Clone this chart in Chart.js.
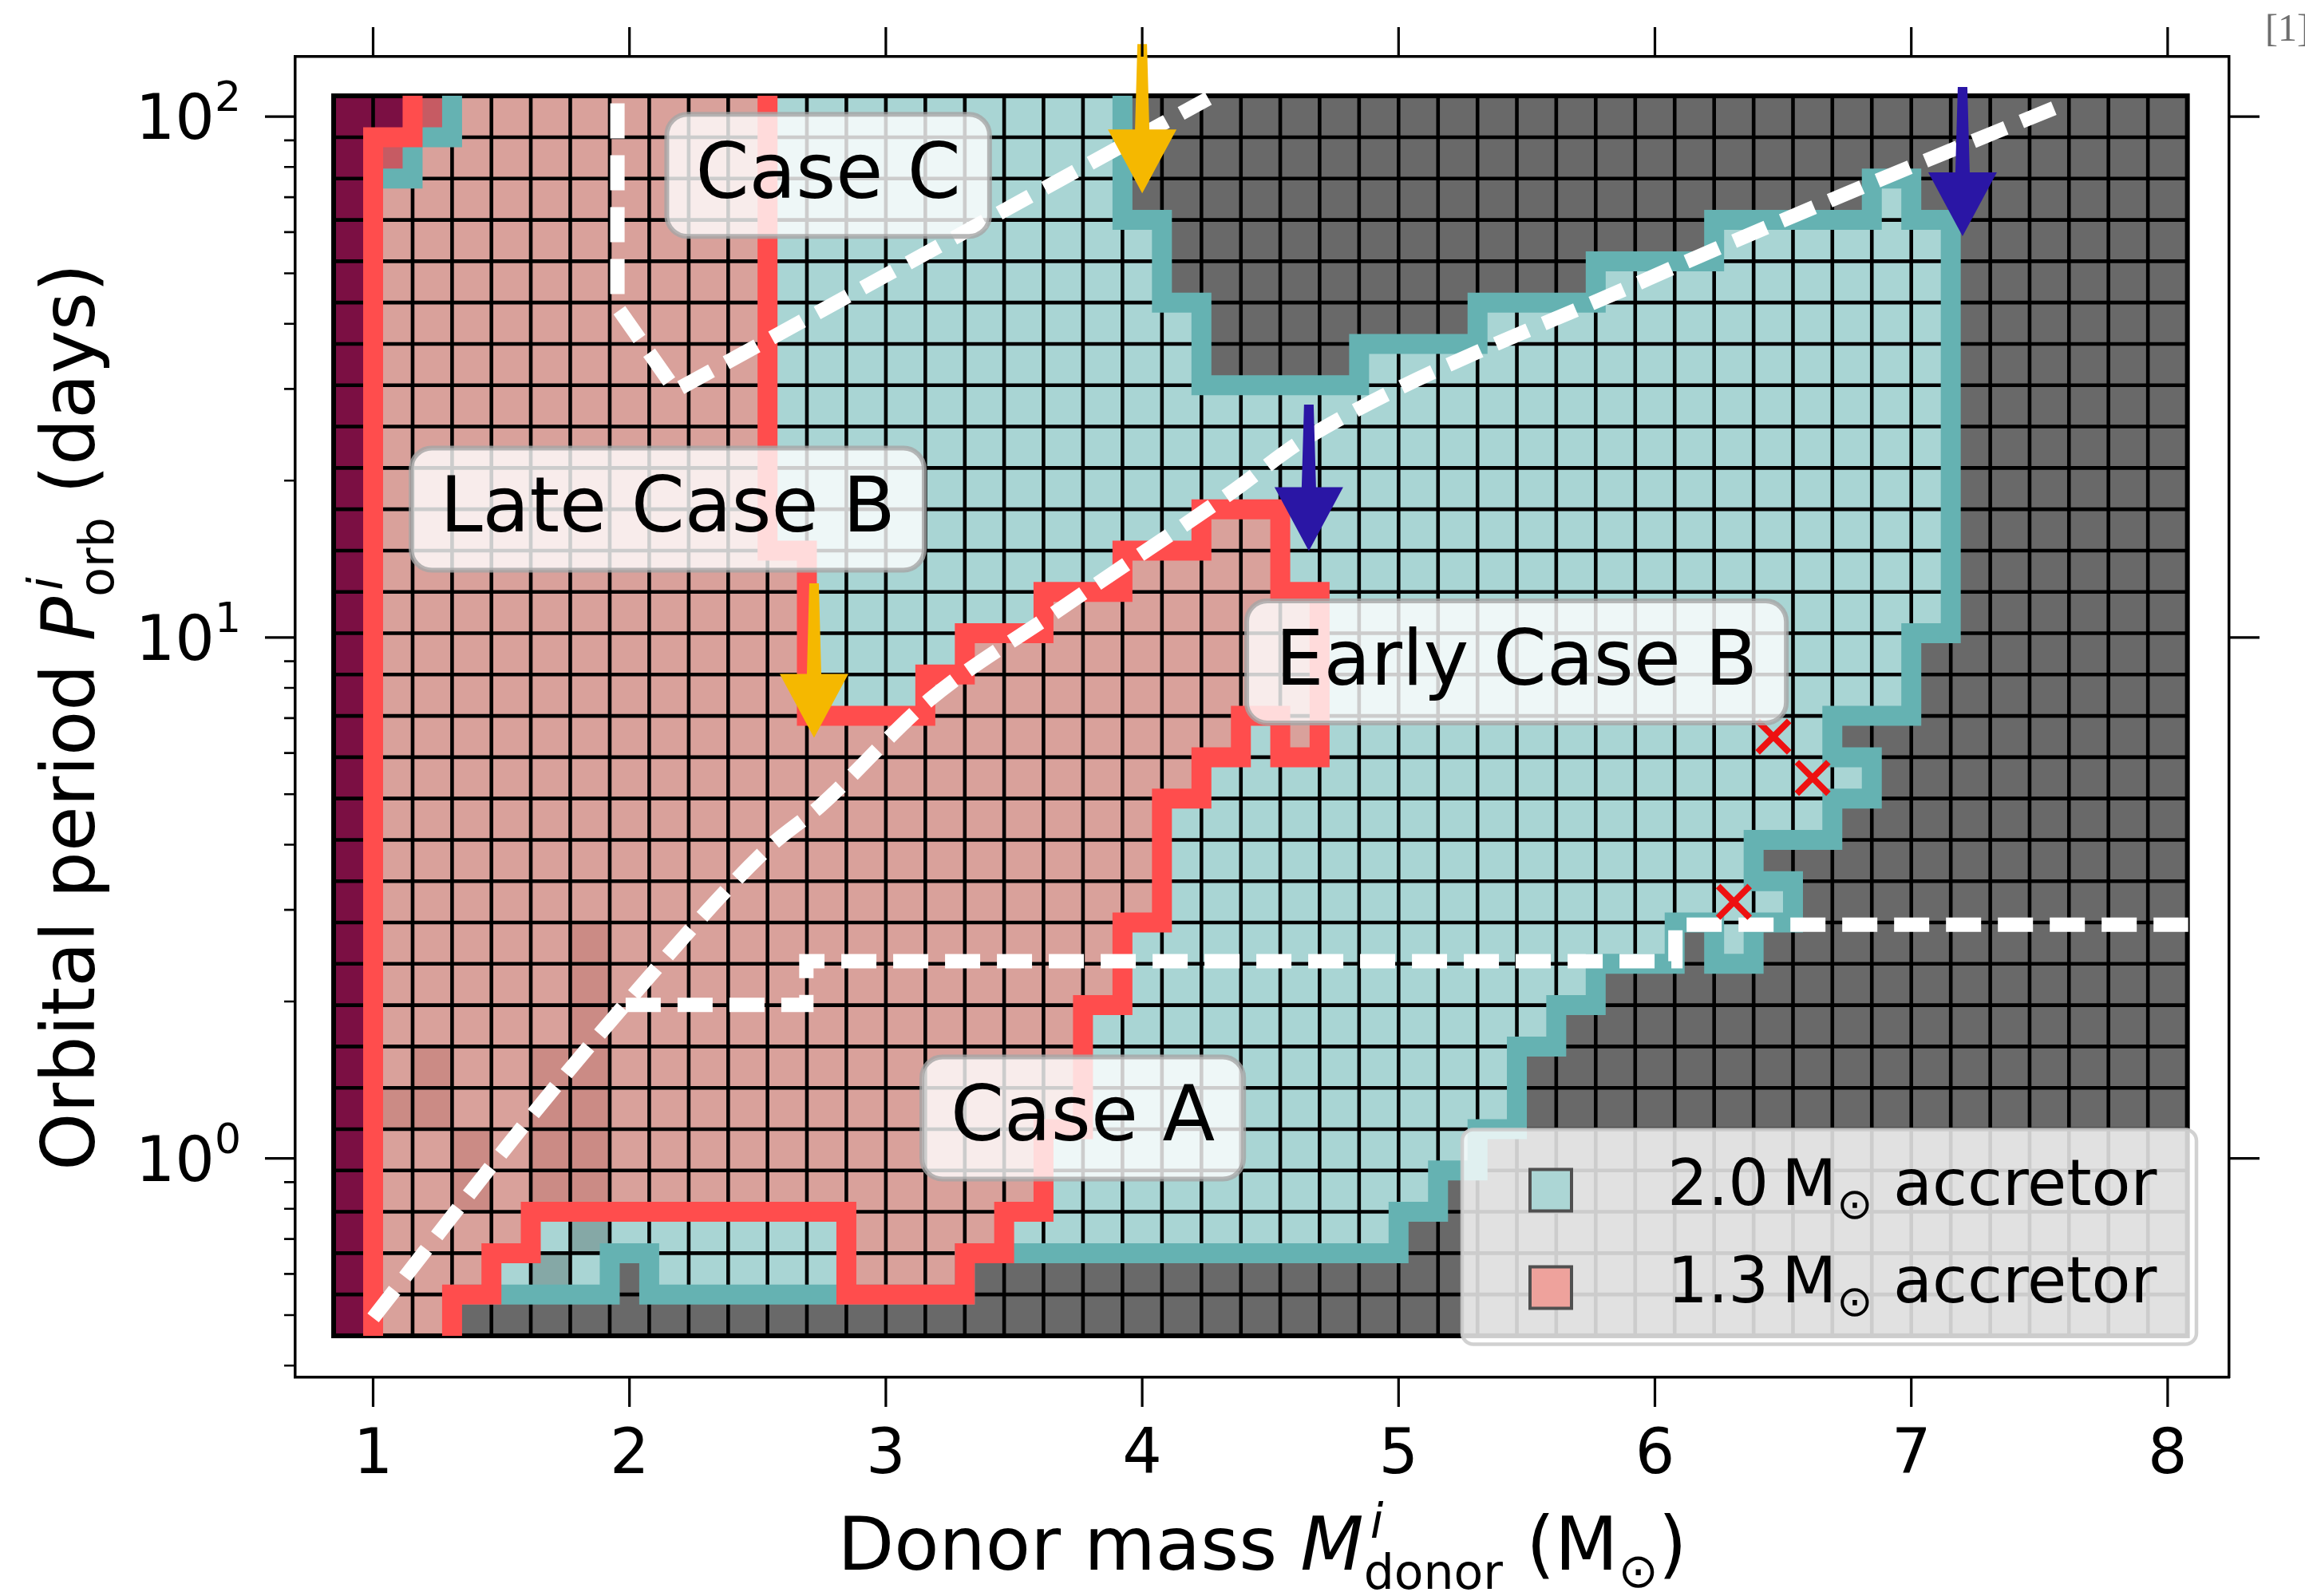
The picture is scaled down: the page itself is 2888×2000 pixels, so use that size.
<!DOCTYPE html>
<html><head><meta charset="utf-8">
<script src="https://cdn.jsdelivr.net/npm/chart.js@4.4.1/dist/chart.umd.min.js"></script>
<style>html,body{margin:0;padding:0;background:#fff}canvas{display:block}</style>
</head><body>
<canvas id="c" width="2888" height="2000" style="width:2888px;height:2000px"></canvas>
<script>
// ================= DATA =================
// grid cell centres (donor mass in Msun, orbital period in days)
const massCenters = [0.923,1.077,1.231,1.385,1.538,1.692,1.846,2.0,2.154,2.308,2.462,2.615,2.769,2.923,3.077,3.231,3.385,3.538,3.692,3.846,4.0,4.154,4.308,4.462,4.615,4.769,4.923,5.077,5.231,5.385,5.538,5.692,5.846,6.0,6.154,6.308,6.462,6.615,6.769,6.923,7.077,7.231,7.385,7.538,7.692,7.846,8.0];
const periodCenters = [0.5,0.6002,0.7205,0.865,1.0383,1.2465,1.4963,1.7962,2.1563,2.5885,3.1073,3.7301,4.4778,5.3753,6.4528,7.7462,9.2989,11.163,13.4,16.086,19.311,23.181,27.828,33.406,40.102,48.14,57.789,69.372,83.277,100];
// cell outcome per row (top row first), run-length coded: code+count
// U: no model, P: 1.3 Msun accretor, Q: 1.3 (shaded), D: mixed, C: 2.0 Msun accretor, K: 2.0 (shaded), G: neither
const cellRows = [
 "U2 D1 P8 C9 G27",
 "U1 D1 P9 C9 G27",
 "U1 P10 C9 G19 C1 G7",
 "U1 P10 C10 G14 C6 G6",
 "U1 P10 C10 G11 C9 G6",
 "U1 P10 C11 G7 C12 G6",
 "U1 P10 C11 G4 C15 G6",
 "U1 P10 C30 G6",
 "U1 P10 C30 G6",
 "U1 P10 C30 G6",
 "U1 P10 C11 P2 C17 G6",
 "U1 P11 C8 P4 C17 G6",
 "U1 P11 C6 P7 C16 G6",
 "U1 P11 C4 P9 C15 G7",
 "U1 P11 C3 P10 C15 G7",
 "U1 P22 C1 P1 C13 G9",
 "U1 P21 C17 G8",
 "U1 P20 C17 G9",
 "U1 P20 C15 G11",
 "U1 P20 C16 G10",
 "U1 P5 Q1 P13 C14 G1 C1 G11",
 "U1 P5 Q1 P13 C12 G15",
 "U1 P5 Q1 P12 C12 G16",
 "U1 P1 Q1 P2 Q2 P12 C11 G17",
 "U1 Q2 P2 Q2 P12 C11 G17",
 "U1 P2 Q1 P1 Q2 P11 C11 G18",
 "U1 P2 Q1 P1 Q2 P11 C10 G19",
 "U1 P4 C1 K1 C6 P4 C10 G20",
 "U1 P3 C1 K1 C1 G1 C5 P3 G31",
 "U1 P2 G44"
];
const cellColors = {U:'#7b0f43', P:'#d9a19b', Q:'#cb8b85', D:'#c65b63', C:'#a9d5d4', K:'#85a8a6', G:'#696969'};

// boundary outlines, as [mass-edge index, period-edge index]
const redPaths = [
 [[1,0],[1,29],[2,29],[2,30]],
 [[11,30],[11,19],[12,19],[12,15],[15,15],[15,16],[16,16],[16,17],[18,17],[18,18],[20,18],[20,19],[22,19],[22,20],[24,20],[24,18],[25,18],[25,14],[24,14],[24,15],[23,15],[23,14],[22,14],[22,13],[21,13],[21,10],[20,10],[20,8],[19,8],[19,5],[18,5],[18,3],[17,3],[17,2],[16,2],[16,1],[13,1],[13,3],[5,3],[5,2],[4,2],[4,1],[3,1],[3,0]]
];
const tealPaths = [
 [[3,30],[3,29],[2,29],[2,28],[1,28]],
 [[3,1],[7,1],[7,2],[8,2],[8,1],[16,1],[16,2],[27,2],[27,3],[28,3],[28,4],[29,4],[29,5],[30,5],[30,7],[31,7],[31,8],[32,8],[32,9],[34,9],[34,10],[35,10],[35,9],[36,9],[36,10],[37,10],[37,11],[36,11],[36,12],[38,12],[38,13],[39,13],[39,14],[38,14],[38,15],[40,15],[40,17],[41,17],[41,27],[40,27],[40,28],[39,28],[39,27],[35,27],[35,26],[32,26],[32,25],[29,25],[29,24],[26,24],[26,23],[22,23],[22,25],[21,25],[21,27],[20,27],[20,30]]
];

// white dashed lines
const caseCLineMass   = [1.953, 1.953, 2.18, 4.258];
const caseCLinePeriod = [106, 43, 29.8, 108.3];
const caseALineMass   = [1.985, 2.69, 2.69, 6.08, 6.08, 8.08];
const caseALinePeriod = [1.97, 1.97, 2.39, 2.39, 2.81, 2.81];
const earlyLineMass   = [1.0, 1.581, 1.985, 2.54, 2.742, 3.17, 3.67, 4.338, 4.65, 5.977, 6.746, 7.60];
const earlyLinePeriod = [0.494, 1.146, 1.98, 3.94, 4.74, 7.59, 11.25, 18.84, 24.3, 48.9, 71.1, 105.9];

// arrows
const arrowMass   = [4.0, 2.72, 4.65, 7.20];
const arrowFrom   = [137.7, 12.7, 28.0, 114];
const arrowTo     = [71.2, 6.42, 14.65, 58.9];
const arrowColors = ['#f5b800', '#f5b800', '#2a16a5', '#2a16a5'];

// red crosses
const crossMass   = [6.462, 6.615, 6.308];
const crossPeriod = [6.45, 5.375, 3.107];

// text labels
const boxLabels = ['Case C', 'Late Case B', 'Early Case B', 'Case A'];
const boxMass   = [2.775, 2.149, 5.46, 3.768];
const boxPeriod = [77.1, 17.63, 8.97, 1.195];

// legend
const legendMasses = ['2.0', '1.3'];
const legendColors = ['#acd6d5', '#eea29c'];

// ticks
const xTicks = [1,2,3,4,5,6,7,8];
const yMajorTicks = [1, 10, 100];
const yMajorExp = ['0', '1', '2'];
const yMinorTicks = [0.4,0.5,0.6,0.7,0.8,0.9,2,3,4,5,6,7,8,9,20,30,40,50,60,70,80,90];

// ================= HELPERS =================
function linEdges(c){
  const e=[c[0]-(c[1]-c[0])/2];
  for(let i=0;i<c.length-1;i++) e.push((c[i]+c[i+1])/2);
  e.push(c[c.length-1]+(c[c.length-1]-c[c.length-2])/2);
  return e;
}
const massEdges = linEdges(massCenters);
const periodEdges = linEdges(periodCenters.map(Math.log10)).map(v=>Math.pow(10,v));
const cellGrid = cellRows.map(s=>s.split(' ').map(t=>t[0].repeat(parseInt(t.slice(1),10))).join(''));
function pathPts(p){ return p.map(([k,j])=>({x:massEdges[k], y:periodEdges[j]})); }
function zipPts(xs, ys){ return xs.map((x,i)=>({x:x, y:ys[i]})); }
const FONT = '"DejaVu Sans", sans-serif';

function roundRect(ctx,x,y,w,h,r){
  ctx.beginPath();
  ctx.moveTo(x+r,y); ctx.lineTo(x+w-r,y); ctx.arcTo(x+w,y,x+w,y+r,r);
  ctx.lineTo(x+w,y+h-r); ctx.arcTo(x+w,y+h,x+w-r,y+h,r);
  ctx.lineTo(x+r,y+h); ctx.arcTo(x,y+h,x,y+h-r,r);
  ctx.lineTo(x,y+r); ctx.arcTo(x,y,x+r,y,r); ctx.closePath();
}
// rich text: parts drawn left to right on a baseline
function richWidth(ctx, parts){
  let w=0;
  for(const p of parts){
    if(p.stack){ let m=0; for(const q of p.stack){ ctx.font=q.font; m=Math.max(m, ctx.measureText(q.text).width+(q.dx||0)); } w+=m; }
    else { ctx.font=p.font; w+=ctx.measureText(p.text).width; }
  }
  return w;
}
function drawRich(ctx, parts, x, y){
  let cx=x;
  for(const p of parts){
    if(p.stack){ let m=0; for(const q of p.stack){ ctx.font=q.font; ctx.fillText(q.text, cx+(q.dx||0), y+(q.dy||0)); m=Math.max(m, ctx.measureText(q.text).width+(q.dx||0)); } cx+=m; }
    else { ctx.font=p.font; ctx.fillText(p.text, cx, y+(p.dy||0)); cx+=ctx.measureText(p.text).width; }
  }
}

// ================= PLUGINS =================
const bgPlugin = { id:'bg', beforeDraw(chart){ const c=chart.ctx; c.save(); c.fillStyle='#fff'; c.fillRect(0,0,chart.width,chart.height); c.restore(); } };

const cellsPlugin = {
  id:'cells',
  beforeDatasetsDraw(chart){
    const ctx=chart.ctx, xs=chart.scales.x, ys=chart.scales.y;
    ctx.save();
    const nR = periodCenters.length, nC = massCenters.length;
    for(let t=0;t<nR;t++){
      const r = nR-1-t;
      const row = cellGrid[t];
      const yTop = ys.getPixelForValue(periodEdges[r+1]);
      const yBot = ys.getPixelForValue(periodEdges[r]);
      for(let c=0;c<nC;c++){
        const x0 = xs.getPixelForValue(massEdges[c]);
        const x1 = xs.getPixelForValue(massEdges[c+1]);
        ctx.fillStyle = cellColors[row[c]] || '#696969';
        ctx.fillRect(x0, yTop, x1-x0+0.5, yBot-yTop+0.5);
      }
    }
    ctx.strokeStyle='#000'; ctx.lineWidth=4.6;
    const xL = xs.getPixelForValue(massEdges[0]), xR = xs.getPixelForValue(massEdges[nC]);
    const yT = ys.getPixelForValue(periodEdges[nR]), yB = ys.getPixelForValue(periodEdges[0]);
    ctx.beginPath();
    for(let k=1;k<nC;k++){ const x=xs.getPixelForValue(massEdges[k]); ctx.moveTo(x,yT); ctx.lineTo(x,yB); }
    for(let j=1;j<nR;j++){ const y=ys.getPixelForValue(periodEdges[j]); ctx.moveTo(xL,y); ctx.lineTo(xR,y); }
    ctx.stroke();
    ctx.lineWidth=6;
    ctx.strokeRect(xL,yT,xR-xL,yB-yT);
    ctx.restore();
  }
};

const overlayPlugin = {
  id:'overlay',
  afterDatasetsDraw(chart){
    const ctx=chart.ctx, xs=chart.scales.x, ys=chart.scales.y;
    ctx.save();
    // arrows
    arrowMass.forEach((m,i)=>{
      const x=xs.getPixelForValue(m), y0=ys.getPixelForValue(arrowFrom[i]), y1=ys.getPixelForValue(arrowTo[i]);
      const hl=80, hw=43, s0=6, s1=9;
      ctx.fillStyle=arrowColors[i];
      ctx.beginPath();
      ctx.moveTo(x-s0,y0); ctx.lineTo(x+s0,y0); ctx.lineTo(x+s1,y1-hl);
      ctx.lineTo(x+hw,y1-hl); ctx.lineTo(x,y1); ctx.lineTo(x-hw,y1-hl); ctx.lineTo(x-s1,y1-hl);
      ctx.closePath(); ctx.fill();
    });
    // label boxes
    ctx.textAlign='center'; ctx.textBaseline='alphabetic';
    boxLabels.forEach((t,i)=>{
      const cx=xs.getPixelForValue(boxMass[i]), cy=ys.getPixelForValue(boxPeriod[i]);
      ctx.font = '96px '+FONT;
      const w=ctx.measureText(t).width+72, h=153;
      roundRect(ctx, cx-w/2, cy-h/2, w, h, 26);
      ctx.fillStyle='rgba(255,255,255,0.8)'; ctx.fill();
      ctx.lineWidth=6; ctx.strokeStyle='rgba(165,165,165,0.8)'; ctx.stroke();
      ctx.fillStyle='#000';
      ctx.fillText(t, cx, cy+28);
    });
    // legend
    const ca = chart.chartArea;
    const lx1 = ca.right-41, ly1 = ca.bottom-41.5, lw=920, lh=269;
    roundRect(ctx, lx1-lw, ly1-lh, lw, lh, 14);
    ctx.fillStyle='rgba(255,255,255,0.8)'; ctx.fill();
    ctx.lineWidth=4.5; ctx.strokeStyle='rgba(204,204,204,0.9)'; ctx.stroke();
    ctx.textAlign='left';
    legendMasses.forEach((m,i)=>{
      const pcy = ly1 - lh + 76 + i*122;
      const px = lx1 - lw + 85;
      ctx.fillStyle=legendColors[i]; ctx.fillRect(px, pcy-26, 52, 52);
      ctx.lineWidth=4; ctx.strokeStyle='#505050'; ctx.strokeRect(px, pcy-26, 52, 52);
      ctx.fillStyle='#000';
      drawRich(ctx, [
        {text: m+'\u2009M', font:'80px '+FONT},
        {text:'\u2299', font:'54px '+FONT, dy:17},
        {text:' accretor', font:'80px '+FONT}
      ], lx1 - lw + 257, pcy + 18);
    });
    ctx.restore();
  }
};

const axesPlugin = {
  id:'axesText',
  afterDraw(chart){
    const ctx=chart.ctx, xs=chart.scales.x, ys=chart.scales.y, ca=chart.chartArea;
    ctx.save();
    ctx.strokeStyle='#000'; ctx.lineWidth=3.2; ctx.lineCap='butt';
    ctx.beginPath();
    xTicks.forEach(v=>{ const x=xs.getPixelForValue(v);
      ctx.moveTo(x, ca.bottom); ctx.lineTo(x, ca.bottom+37);
      ctx.moveTo(x, ca.top); ctx.lineTo(x, ca.top-37); });
    yMajorTicks.forEach(v=>{ const y=ys.getPixelForValue(v);
      ctx.moveTo(ca.left, y); ctx.lineTo(ca.left-38, y);
      ctx.moveTo(ca.right, y); ctx.lineTo(ca.right+38, y); });
    ctx.stroke();
    ctx.lineWidth=2.6;
    ctx.beginPath();
    yMinorTicks.forEach(v=>{ const y=ys.getPixelForValue(v);
      ctx.moveTo(ca.left, y); ctx.lineTo(ca.left-14, y); });
    ctx.stroke();
    // tick labels
    ctx.fillStyle='#000'; ctx.textBaseline='alphabetic';
    ctx.font='78px '+FONT; ctx.textAlign='center';
    xTicks.forEach(v=>{ ctx.fillText(String(v), xs.getPixelForValue(v), 1846); });
    ctx.textAlign='left';
    yMajorTicks.forEach((v,i)=>{
      const y=ys.getPixelForValue(v);
      const parts=[{text:'10', font:'78px '+FONT},{text:yMajorExp[i], font:'52px '+FONT, dy:-35}];
      const w=richWidth(ctx, parts);
      drawRich(ctx, parts, 302-w, y+28);
    });
    // x axis label
    const xl = [
      {text:'Donor mass ', font:'92px '+FONT},
      {text:'M', font:'italic 92px '+FONT},
      {stack:[{text:'i', font:'italic 60px '+FONT, dy:-40, dx:8},{text:'donor', font:'60px '+FONT, dy:24}]},
      {text:' (M', font:'92px '+FONT},
      {text:'\u2299', font:'60px '+FONT, dy:22},
      {text:')', font:'92px '+FONT}
    ];
    const xw = richWidth(ctx, xl);
    drawRich(ctx, xl, (ca.left+ca.right)/2 - xw/2, 1967);
    // y axis label
    const yl = [
      {text:'Orbital period ', font:'92px '+FONT},
      {text:'P', font:'italic 92px '+FONT},
      {stack:[{text:'i', font:'italic 60px '+FONT, dy:-40, dx:8},{text:'orb', font:'60px '+FONT, dy:24}]},
      {text:' (days)', font:'92px '+FONT}
    ];
    const yw = richWidth(ctx, yl);
    ctx.save();
    ctx.translate(118, (ca.top+ca.bottom)/2);
    ctx.rotate(-Math.PI/2);
    drawRich(ctx, yl, -yw/2, 0);
    ctx.restore();
    // corner reference mark
    ctx.font='48px "Liberation Serif", serif'; ctx.fillStyle='#6e6e6e'; ctx.textAlign='left';
    ctx.fillText('[1]', 2838, 51);
    ctx.restore();
  }
};

// ================= CHART =================
const lineBase = {showLine:true, pointRadius:0, pointHoverRadius:0, fill:false, borderCapStyle:'butt', borderJoinStyle:'miter'};
const datasets = [];
tealPaths.forEach(p=>datasets.push(Object.assign({}, lineBase, {label:'2.0 Msun boundary', data:pathPts(p), borderColor:'#65b2b2', borderWidth:25, order:6})));
redPaths.forEach(p=>datasets.push(Object.assign({}, lineBase, {label:'1.3 Msun boundary', data:pathPts(p), borderColor:'#ff4d4d', borderWidth:25, order:5})));
datasets.push(Object.assign({}, lineBase, {label:'Case C limit', data:zipPts(caseCLineMass, caseCLinePeriod), borderColor:'#fff', borderWidth:18, borderDash:[44,21], order:4}));
datasets.push(Object.assign({}, lineBase, {label:'Case A limit', data:zipPts(caseALineMass, caseALinePeriod), borderColor:'#fff', borderWidth:18, borderDash:[44,21], order:4}));
datasets.push(Object.assign({}, lineBase, {label:'Early/late case B', data:zipPts(earlyLineMass, earlyLinePeriod), borderColor:'#fff', borderWidth:18, borderDash:[44,21], cubicInterpolationMode:'monotone', order:4}));
datasets.push({label:'crosses', data:zipPts(crossMass, crossPeriod), showLine:false, pointStyle:'crossRot', pointRadius:28, pointHoverRadius:28, pointBorderColor:'#ee1111', pointBorderWidth:8, borderColor:'#ee1111', order:3});

const axisCommon = {grid:{display:false}, ticks:{display:false}, border:{display:true, color:'#000', width:3.5}, bounds:'data', display:true};
new Chart(document.getElementById('c'), {
  type:'scatter',
  data:{datasets},
  options:{
    responsive:false, animation:false, devicePixelRatio:1, events:[],
    layout:{padding:0},
    plugins:{legend:{display:false}, tooltip:{enabled:false}, title:{display:false}},
    scales:{
      x: Object.assign({}, axisCommon, {type:'linear', position:'bottom', min:0.6965, max:8.24, afterFit(s){ s.height=274; }}),
      x2: Object.assign({}, axisCommon, {type:'linear', position:'top', min:0.6965, max:8.24, afterFit(s){ s.height=71; }}),
      y: Object.assign({}, axisCommon, {type:'logarithmic', position:'left', min:0.3798, max:130.3, afterFit(s){ s.width=370; }}),
      y2: Object.assign({}, axisCommon, {type:'logarithmic', position:'right', min:0.3798, max:130.3, afterFit(s){ s.width=95; }})
    }
  },
  plugins:[bgPlugin, cellsPlugin, overlayPlugin, axesPlugin]
});
</script>
</body></html>
